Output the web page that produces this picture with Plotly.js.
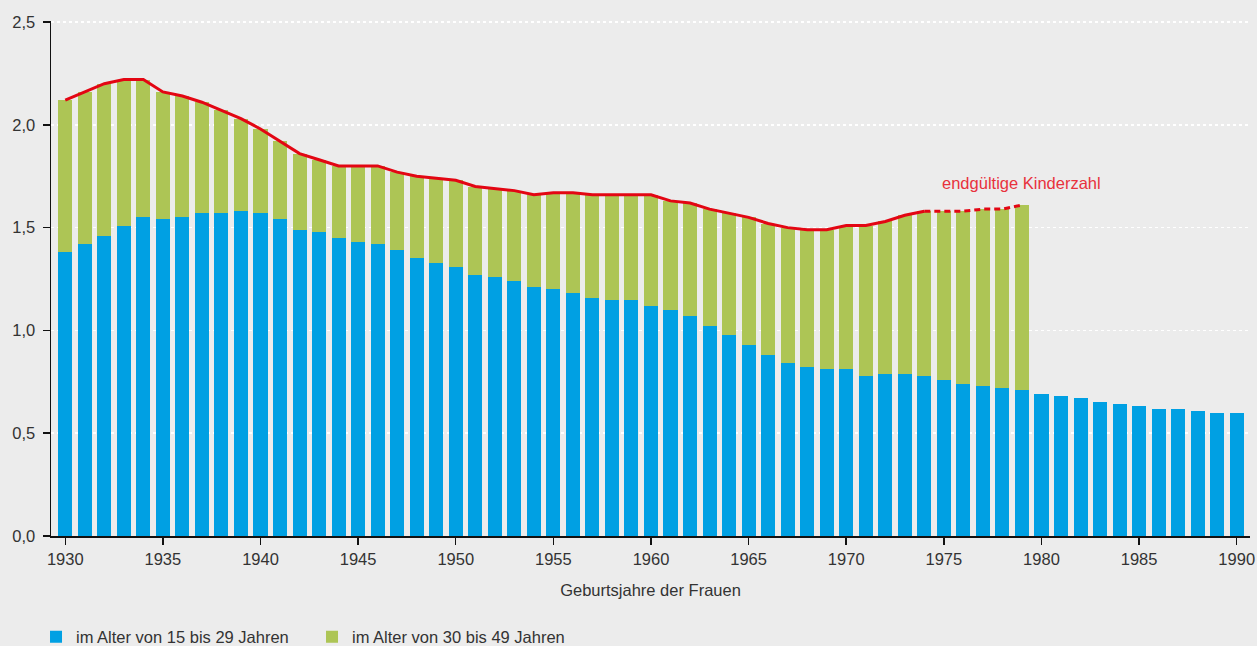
<!DOCTYPE html>
<html>
<head>
<meta charset="utf-8">
<script src="https://cdn.plot.ly/plotly-3.0.1.min.js"></script>
<style>html,body{margin:0;padding:0;background:#ececec;}#chart{width:1257px;height:646px;}</style>
</head>
<body>
<div id="chart"></div>
<script>
// Geburtsjahre der Frauen
const years = [1930,1931,1932,1933,1934,1935,1936,1937,1938,1939,1940,1941,1942,1943,1944,1945,1946,1947,1948,1949,1950,1951,1952,1953,1954,1955,1956,1957,1958,1959,1960,1961,1962,1963,1964,1965,1966,1967,1968,1969,1970,1971,1972,1973,1974,1975,1976,1977,1978,1979,1980,1981,1982,1983,1984,1985,1986,1987,1988,1989,1990];
// im Alter von 15 bis 29 Jahren
const age15to29 = [1.38,1.42,1.46,1.51,1.55,1.54,1.55,1.57,1.57,1.58,1.57,1.54,1.49,1.48,1.45,1.43,1.42,1.39,1.35,1.33,1.31,1.27,1.26,1.24,1.21,1.20,1.18,1.16,1.15,1.15,1.12,1.10,1.07,1.02,0.98,0.93,0.88,0.84,0.82,0.81,0.81,0.78,0.79,0.79,0.78,0.76,0.74,0.73,0.72,0.71,0.69,0.68,0.67,0.65,0.64,0.63,0.62,0.62,0.61,0.60,0.60];
// im Alter von 30 bis 49 Jahren (Jahrgänge 1930–1979)
const age30to49 = [0.74,0.74,0.74,0.71,0.67,0.62,0.59,0.54,0.50,0.45,0.41,0.38,0.37,0.35,0.35,0.37,0.38,0.38,0.40,0.41,0.42,0.43,0.43,0.44,0.45,0.47,0.49,0.50,0.51,0.51,0.54,0.53,0.55,0.57,0.59,0.62,0.64,0.66,0.67,0.68,0.70,0.73,0.74,0.77,0.80,0.82,0.84,0.86,0.87,0.90];
const yTicks = [0,0.5,1,1.5,2,2.5];
const xTicks = [1930,1935,1940,1945,1950,1955,1960,1965,1970,1975,1980,1985,1990];
const lastSolidYear = 1974;

const greenYears = years.slice(0, age30to49.length);
const total = age30to49.map((g, i) => +(g + age15to29[i]).toFixed(2));
const solidIdx = greenYears.indexOf(lastSolidYear);

const traces = [
  {type:'bar', x:years, y:age15to29, name:'im Alter von 15 bis 29 Jahren', marker:{color:'#00a0e3'}, width:0.72, hoverinfo:'x+y'},
  {type:'bar', x:greenYears, y:age30to49, name:'im Alter von 30 bis 49 Jahren', marker:{color:'#adc555'}, width:0.72, hoverinfo:'x+y'},
  {type:'scatter', mode:'lines', x:greenYears.slice(0, solidIdx+1), y:total.slice(0, solidIdx+1), line:{color:'#e30613', width:3}, showlegend:false},
  {type:'scatter', mode:'lines', x:greenYears.slice(solidIdx), y:total.slice(solidIdx), line:{color:'#e30613', width:3, dash:'6px,4px'}, showlegend:false}
];

const font = {family:'"Liberation Sans", Arial, sans-serif', size:16.5, color:'#333333'};

const layout = {
  width:1257, height:646,
  paper_bgcolor:'#ececec', plot_bgcolor:'#ececec',
  margin:{l:51, r:7, t:21, b:110, autoexpand:false},
  barmode:'stack',
  separators:', ',
  font:font,
  showlegend:true,
  legend:{orientation:'h', x:-0.0125, xanchor:'left', y:-0.196, yanchor:'middle', font:font, entrywidth:231, entrywidthmode:'pixels', bgcolor:'rgba(0,0,0,0)', traceorder:'normal'},
  xaxis:{range:[1929.27, 1990.68], tickvals:xTicks, ticktext:xTicks.map(String), ticks:'outside', ticklen:7, tickwidth:1.5, tickcolor:'#111', showline:true, linecolor:'#111', linewidth:1.5, showgrid:false, zeroline:false, tickfont:font, ticklabelstandoff:1,
    title:{text:'Geburtsjahre der Frauen', font:{family:font.family, size:16.5, color:'#333'}, standoff:17}},
  yaxis:{range:[0,2.505], tickvals:yTicks, tickformat:'.1f', ticks:'outside', ticklen:7, tickwidth:1.5, tickcolor:'#111', showline:true, linecolor:'#111', linewidth:1.5, showgrid:true, gridcolor:'#ffffff', gridwidth:1.5, griddash:'dot', zeroline:false, tickfont:font, ticklabelstandoff:4},
  annotations:[{x:1979.0, y:1.716, xref:'x', yref:'y', text:'endgültige Kinderzahl', showarrow:false, font:{family:font.family, size:16.5, color:'#e8313c'}}]
};

Plotly.newPlot('chart', traces, layout, {displayModeBar:false, staticPlot:true});
</script>
</body>
</html>
